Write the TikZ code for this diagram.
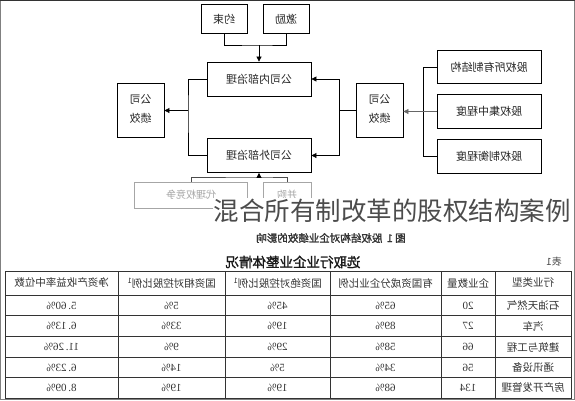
\documentclass[tikz,border=0pt]{standalone}
\usepackage{fontspec}
\usepackage{graphicx}
\usetikzlibrary{arrows.meta}
\newfontfamily\cn{Noto Sans CJK SC}
\newfontfamily\cnb{Noto Sans CJK SC}[FakeBold=1.6]
\newfontfamily\num{Liberation Serif}
\newcommand{\mr}[1]{\reflectbox{#1}}
\begin{document}
\begin{tikzpicture}[x=1pt,y=-1pt,
  box/.style={draw,line width=0.8pt,inner sep=0pt,font=\cn\fontsize{11}{13}\selectfont,text=black!85},
  fadebox/.style={draw=black!35,line width=0.8pt,inner sep=0pt,font=\cn\fontsize{10}{12}\selectfont,text=black!35},
  conn/.style={line width=0.7pt},
  arr/.style={line width=0.7pt,-{Triangle[length=5pt,width=5pt]}},
  cell/.style={inner sep=0pt,font=\cn\fontsize{10.5}{12}\selectfont,text=black!80},
  ncell/.style={inner sep=0pt,font=\num\fontsize{11}{12}\selectfont,text=black!80},
  grid/.style={line width=0.6pt,black!80}
]
\useasboundingbox (0,0) rectangle (575,400);
\fill[white] (0,0) rectangle (575,400);
\draw[black!50,line width=1pt] (0.5,0.5) rectangle (574.5,399.5);
\draw[black!80,line width=1.2pt] (0,0.6) -- (575,0.6);

% diagram boxes
\node[box,minimum width=46,minimum height=29] (yue) at (224,19) {\mr{约束}};
\node[box,minimum width=46,minimum height=29] (ji) at (286,19) {\mr{激励}};
\node[box,minimum width=104,minimum height=34] (nei) at (259,79) {\mr{公司内部治理}};
\node[box,minimum width=104,minimum height=34] (wai) at (259,155.5) {\mr{公司外部治理}};
\node[box,minimum width=47,minimum height=54] (jxL) at (140.5,110.5) {\mr{\begin{tabular}{@{}c@{}}公司\\[6pt]绩效\end{tabular}}};
\node[box,minimum width=47,minimum height=54] (jxR) at (379.5,110.5) {\mr{\begin{tabular}{@{}c@{}}公司\\[6pt]绩效\end{tabular}}};
\node[box,minimum width=104,minimum height=33] (r1) at (489,67) {\mr{股权所有制结构}};
\node[box,minimum width=104,minimum height=34] (r2) at (489,111.5) {\mr{股权集中程度}};
\node[box,minimum width=104,minimum height=34] (r3) at (489,156) {\mr{股权制衡程度}};
\node[fadebox,minimum width=113,minimum height=26] (b1) at (191,195) {\mr{代理权竞争}};
\node[fadebox,minimum width=48,minimum height=26] (b2) at (287,195) {\mr{并购}};

% connectors
\coordinate (jt) at (259,45);
\draw[conn] (yue.south) |- (jt) -| (ji.south);
\draw[arr] (jt) -- (nei.north);
\coordinate (jl) at (188,110.5);
\draw[conn] (nei.west) -| (jl) |- (wai.west);
\draw[arr] (jl) -- (jxL.east);
\coordinate (jr) at (339,110.5);
\draw[conn] (jxR.west) -- (jr);
\draw[arr] (jr) |- (nei.east);
\draw[arr] (jr) |- (wai.east);
\coordinate (jrr) at (423.5,111.5);
\draw[conn] (r1.west) -| (jrr) |- (r3.west);
\draw[arr,draw=black!60] (r2.west) -- (r2.west -| jxR.east);
\coordinate (jb) at (259,177);
\draw[conn,black!70] (b1.north) |- (jb) -| (b2.north);
\draw[arr] (jb) -- (wai.south);

% watermark title
\node[fill=white,inner sep=1pt,font=\cn\fontsize{25.5}{28}\selectfont,text=black!70] (wm) at (392,211) {混合所有制改革的股权结构案例};

% captions
\node[font=\cnb\fontsize{10.5}{12}\selectfont,text=black!80] (cap) at (331,238) {\mr{图 1\ \ 股权结构对企业绩效的影响}};
\node[font=\cnb\fontsize{13.5}{15}\selectfont,text=black!90] (ttl) at (293,262) {\mr{选取行业企业整体情况}};
\node[font=\cn\fontsize{10}{12}\selectfont,text=black!70] (tno) at (554,262) {\mr{表1}};

% table grid
\draw[grid] (5,271) rectangle (571,398);
\foreach \yy in {295,315.5,336.5,357,377.5} \draw[grid] (5,\yy) -- (571,\yy);
\foreach \xx in {118,225,330,441,495} \draw[grid] (\xx,271) -- (\xx,398);

% header
\node[cell] (h1) at (533,283) {\mr{行业类型}};
\node[cell] (h2) at (468,283) {\mr{企业数量}};
\node[cell] (h3) at (385.5,283) {\mr{有国资成分企业比例}};
\node[cell] (h4) at (277.5,283) {\mr{国资绝对控股比例\textsuperscript{1}}};
\node[cell] (h5) at (171.5,283) {\mr{国资相对控股比例\textsuperscript{1}}};
\node[cell] (h6) at (61.5,283) {\mr{净资产收益率中位数}};

% rows
\foreach \yy/\a/\b/\c/\d/\e/\f [count=\i] in {
  305.5/石油天然气/20/65\%/45\%/5\%/5.\,60\%,
  326/汽车/27/89\%/19\%/33\%/6.\,13\%,
  347/建筑与工程/66/58\%/29\%/9\%/11.\,26\%,
  367.5/通讯设备/56/34\%/5\%/14\%/6.\,23\%,
  388/房产开发管理/134/68\%/19\%/19\%/8.\,09\%}{
  \node[cell] (c\i a) at (533,\yy) {\mr{\a}};
  \node[ncell] (c\i b) at (468,\yy) {\mr{\b}};
  \node[ncell] (c\i c) at (385.5,\yy) {\mr{\c}};
  \node[ncell] (c\i d) at (277.5,\yy) {\mr{\d}};
  \node[ncell] (c\i e) at (171.5,\yy) {\mr{\e}};
  \node[ncell] (c\i f) at (61.5,\yy) {\mr{\f}};
}
\end{tikzpicture}
\end{document}
